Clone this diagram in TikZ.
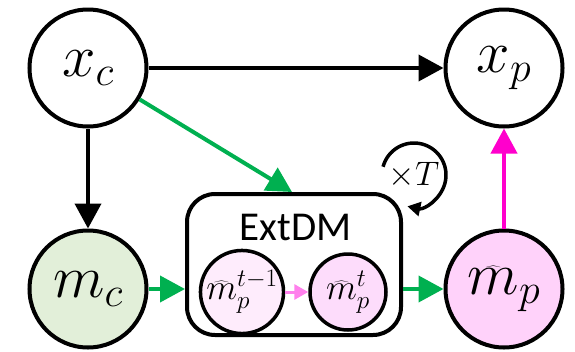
\RequirePackage{fix-cm}
\documentclass[tikz,border=0pt]{standalone}
\usepackage{fontspec}
\newfontfamily\labelfont{Carlito}
\usetikzlibrary{arrows.meta,calc}

\definecolor{flowgreen}{RGB}{0,176,80}
\definecolor{flowmagenta}{RGB}{255,0,204}
\definecolor{steppink}{RGB}{255,128,236}
\definecolor{ctxfill}{RGB}{226,239,217}
\definecolor{predfill}{RGB}{255,210,250}
\definecolor{prevfill}{RGB}{254,236,252}
\definecolor{curfill}{RGB}{253,220,251}

\tikzset{
  var/.style={circle, draw=black, line width=4pt, minimum size=117pt, inner sep=0pt,
              font=\fontsize{60}{60}\selectfont},
  stepnode/.style={circle, draw=black, line width=3.5pt, minimum size=76pt, inner sep=0pt,
              font=\fontsize{36}{36}\selectfont},
  bigarrow/.style={line width=4pt, -{Triangle[length=25pt,width=26pt]}},
  smallarrow/.style={line width=3pt, -{Triangle[length=14pt,width=15pt]}},
}

\begin{document}
\begin{tikzpicture}[x=1pt, y=-1pt]
  \useasboundingbox (0,0) rectangle (575,351);

  % observed and predicted variables
  \node[var] (xc) at (88,68) {$x_c$};
  \node[var] (xp) at (504,68) {$x_p$};
  \node[var, fill=ctxfill] (mc) at (88,289) {$m_c$};
  \node[var, fill=predfill] (mp) at (504,289) {$\widehat{m}_p$};

  % diffusion model block
  \node[draw=black, line width=4pt, rounded corners=28pt, minimum width=214pt,
        minimum height=141pt, inner sep=0pt] (ext) at (294,264.5) {};
  \node[anchor=base, font=\labelfont\fontsize{41}{41}\selectfont] (extlabel) at (295.5,240) {ExtDM};
  \node[stepnode, fill=prevfill] (mprev) at (242,292) {$\widehat{m}_p^{t-1}$};
  \node[stepnode, fill=curfill] (mcur) at (348,292) {$\widehat{m}_p^{t}$};
  \coordinate (extin) at (292,192);

  % iteration loop
  \node[font=\fontsize{34}{34}\selectfont] (times) at (414,175) {$\times T$};
  \coordinate (loopc) at (414,175);
  \draw[line width=3.5pt, -{Triangle[length=13pt,width=14pt]}]
    ($(loopc)+(195:32)$) arc[start angle=195, end angle=462, radius=32];

  % connections
  \draw[bigarrow] (xc) -- (xp);
  \draw[bigarrow] (xc) -- (mc);
  \draw[bigarrow, flowgreen] (xc) -- (extin);
  \draw[bigarrow, flowgreen] (mc) -- (mc -| ext.west);
  \draw[bigarrow, flowgreen] (ext.east |- mp) -- (mp);
  \draw[bigarrow, flowmagenta] (mp) -- (xp);
  \draw[smallarrow, steppink] (mprev) -- (mcur);
\end{tikzpicture}
\end{document}
